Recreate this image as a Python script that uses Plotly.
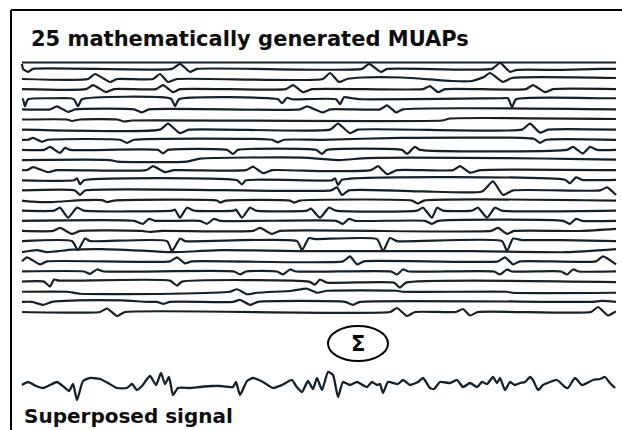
import plotly.graph_objects as go

# ---------------- data ----------------
# time axis in ms (0 .. 594), amplitude in a.u. (positive = upward deflection)
muap_01 = [(0,5),(1,0),(6,-3),(11,0),(150,0),(158,5),(168,-3),(175,0),(340,0),(347,5),(359,-3),(365,0),(470,0),(478,6),(488,-3),(495,-1),(540,-1),(580,0),(594,0)]
muap_02 = [(0,0),(66,0),(73,5),(88,-3),(95,0),(131,0),(138,5),(146,-3),(155,0),(301,0),(308,6),(317,-3),(325,0),(340,1.5),(380,1.5),(430,-2),(450,-2),(462,2),(468,6),(481,-3),(490,1),(594,1)]
muap_03 = [(0,0),(64,0),(71,4),(84,-3),(92,0),(134,0),(141,4),(151,-3),(158,0),(264,0),(271,4),(281,-3),(290,0),(401,0),(408,3),(416,-3),(423,0),(504,0),(511,4),(523,-3),(531,0),(594,0)]
muap_04 = [(0,0),(1,0),(3,-7),(6,0),(30,1),(48,1),(52,0),(56,-7),(60,0),(149,0.5),(153,-7),(157,0),(256,0),(260,-4),(265,1.5),(270,0),(314,0),(318,-5),(322,2),(330,1),(340,0),(480,1),(486,1),(490,-8),(494,0),(580,1),(594,1)]
muap_05 = [(0,0),(28,0),(35,3),(46,-2.5),(53,0),(112,0),(120,-3),(127,0),(278,0),(285,3),(301,-3),(308,0),(358,0),(365,4),(374,-3),(381,0),(594,0)]
muap_06 = [(0,0),(45,0),(50,-1.5),(58,0),(95,0),(102,-2),(110,-1),(420,-1),(428,1),(594,0.5)]
muap_07 = [(0,0),(138,0),(146,6),(158,-3.5),(167,0),(308,0),(316,6),(328,-3.5),(336,0),(500,0),(508,6),(518,-3),(526,0),(594,0)]
muap_08 = [(0,0),(6,0),(11,2),(20,-2),(26,0),(98,0),(105,-3),(112,0),(250,0),(256,-2.5),(262,0),(300,0),(378,2),(500,2),(512,1),(518,-3),(524,0),(594,0)]
muap_09 = [(0,0),(22,0),(28,3),(38,-3),(43,2),(48,0),(136,0),(141,-3.5),(146,0),(205,0),(211,-4),(216,0),(294,0),(300,-4),(305,0),(380,0),(385,-4),(393,3),(398,0),(545,0),(551,3),(561,-3.5),(568,3),(575,0),(594,0)]
muap_10 = [(0,0),(88,0),(95,-1.5),(165,-1.5),(178,1.5),(280,2.5),(318,0),(345,2),(480,2),(560,1),(594,0.5)]
muap_11 = [(0,0),(5,0),(11,3),(26,-2),(35,0),(124,0),(131,4),(143,-2),(152,0),(224,0),(231,3.5),(241,-3),(250,0),(300,-1),(349,0),(356,4),(365,-4),(375,0),(431,0),(438,4),(448,-2.5),(458,0),(594,0)]
muap_12 = [(0,0),(52,0),(55,2),(58,-4),(62,0),(215,0),(220,-4),(224,0),(310,0),(313,2),(316,-4.5),(320,0.5),(543,0.5),(548,-3),(554,3),(560,0.5),(594,0.5)]
muap_13 = [(0,0),(53,0),(58,-4.5),(63,0),(309,0),(315,3),(320,-4.5),(327,0),(400,-1),(460,-1),(471,9),(481,-4.5),(491,0),(578,0),(585,3),(594,-4.5)]
muap_14 = [(0,0),(10,-1),(30,-1.5),(60,0.5),(80,0.5),(85,-1.5),(92,0),(195,0),(198,-2),(204,0),(268,0),(272,-2),(278,0),(390,0),(396,-3),(402,0),(594,0)]
muap_15 = [(0,0),(32,0),(38,3),(46,-7),(55,3),(62,0),(150,0),(153,1),(158,-7),(165,3),(172,0),(212,0),(214,1),(220,-7),(228,3),(234,0),(285,0),(289,2),(298,-7),(307,3),(314,0),(395,0),(401,3),(410,-7),(415,3),(421,0),(450,0),(456,3),(465,-7),(473,3),(480,0),(594,0)]
muap_16 = [(0,0),(112,0),(121,-3),(127,2),(133,0),(178,0),(185,-3),(192,2),(198,0),(314,0),(321,-3),(327,2),(333,0),(403,0),(410,-3),(416,0),(541,0),(548,-3),(554,2),(560,0),(594,0)]
muap_17 = [(0,0),(31,0),(38,3),(50,-3),(58,0),(120,0),(128,-1),(140,0),(231,0),(238,3),(250,-3),(258,0),(469,0),(476,3),(485,-3),(492,0),(560,0),(594,2)]
muap_18 = [(0,0),(50,0),(56,-9),(63,2.5),(68,0),(145,0),(150,-10),(158,2.5),(163,0),(275,0),(280,-9),(287,3),(293,2),(355,2),(361,-10),(368,3),(375,0),(480,0),(485,-10),(491,2.5),(500,1),(540,1),(594,0)]
muap_19 = [(0,-1),(15,1),(25,-1),(50,1.5),(80,2),(130,0),(150,-1),(200,1),(300,0),(450,0),(545,-1),(594,2)]
muap_20 = [(0,0),(5,4),(18,-3),(25,0),(148,0),(155,4),(163,-2),(170,0),(321,0),(328,5),(335,-3),(342,0),(476,0),(483,4),(491,-3),(498,0),(574,0),(581,5),(594,-3)]
muap_21 = [(0,0),(62,0),(68,-2.5),(75,2),(82,0),(212,0),(218,-3),(224,0),(255,0),(261,-3),(268,2),(274,0),(369,0),(375,-3),(381,2),(387,0),(472,0),(478,-3),(485,2),(490,0),(539,0),(545,-3),(551,2),(557,0),(594,0)]
muap_22 = [(0,0),(22,0),(28,-5),(32,2),(37,1),(148,1),(155,-4),(160,0),(287,0),(293,-3),(298,2),(305,-1),(372,-1),(378,-6),(384,-1),(594,-0.5)]
muap_23 = [(0,0),(45,0),(58,-2),(150,-2),(208,0),(215,2.5),(225,-2.5),(235,-1),(270,1),(285,3),(295,-1),(305,1),(375,1),(380,0),(485,0),(490,-1),(594,-1)]
muap_24 = [(0,0),(10,0),(21,-3),(30,0),(55,1.5),(100,1.5),(125,0),(135,0),(141,-2),(148,0),(211,0),(218,2),(228,-3),(236,0),(323,0),(331,-3),(338,0),(570,0),(580,1),(594,0)]
muap_25 = [(0,0),(78,0),(85,3.5),(95,-4),(103,0),(368,0),(375,4),(385,-4),(393,0),(434,0),(441,3),(448,-3.5),(456,0),(569,0),(576,5),(586,-3.5),(593,0),(594,0)]

superposed_t = [0,6,14,21,28,35,42,47,51,55,61,68,78,86,95,105,110,115,120,128,134,139,143,147,151,156,168,178,191,198,211,214,218,225,231,241,251,260,270,274,280,286,291,295,300,306,311,316,321,328,335,345,350,355,358,361,366,376,381,388,396,401,408,412,418,428,435,441,448,455,460,465,471,475,478,483,488,493,498,503,508,511,516,521,528,535,543,546,553,560,565,571,578,583,588,593]
superposed_a = [0,3,-1,-3,0,3,-2,-6,1,-15,4,7,6,2,-3,-3,1,-5,-1,9,0,12,1,8,-10,-3,-3,-2,-1,-1,-2,3,-10,4,7,3,-3,0,5,-1,-7,4,-4,7,-5,13,10,-12,3,0,3,-2,3,0,1,-8,3,1,5,0,3,7,-3,-4,3,2,5,-2,2,-2,3,1,8,2,7,-5,3,0,2,3,8,5,-5,0,3,5,-2,-3,7,0,2,5,6,8,2,-3]

title_text = "25 mathematically generated MUAPs"
bottom_text = "Superposed signal"
sum_symbol = "Σ"

muap_rows = [muap_01, muap_02, muap_03, muap_04, muap_05, muap_06, muap_07, muap_08, muap_09, muap_10,
             muap_11, muap_12, muap_13, muap_14, muap_15, muap_16, muap_17, muap_18, muap_19, muap_20,
             muap_21, muap_22, muap_23, muap_24, muap_25]

# ---------------- layout / style ----------------
W, H = 622, 430
X0 = 22                 # left edge of traces in px
ROW2_PX = 79.0          # baseline of second row
ROW_SP = 10.13          # row spacing in px
SUM_BASE = 385.0
LINE_COLOR = "#14212a"
TEXT_COLOR = "#0d0d0d"
FONT = "DejaVu Sans"
LW = 2.2

fig = go.Figure()

# frame line directly above the traces
fig.add_trace(go.Scatter(x=[0, 594], y=[-62.5, -62.5], mode="lines",
                         line=dict(color=LINE_COLOR, width=LW), hoverinfo="skip"))

for i, row in enumerate(muap_rows):
    base = ROW2_PX + (i - 1) * ROW_SP
    xs = [p[0] for p in row]
    ys = [-base + p[1] for p in row]
    fig.add_trace(go.Scatter(x=xs, y=ys, mode="lines",
                             line=dict(color=LINE_COLOR, width=LW, shape="spline", smoothing=0.5),
                             hoverinfo="skip"))

fig.add_trace(go.Scatter(x=superposed_t, y=[-SUM_BASE + a for a in superposed_a], mode="lines",
                         line=dict(color=LINE_COLOR, width=2.3, shape="spline", smoothing=0.5),
                         hoverinfo="skip"))

shapes = [
    dict(type="line", xref="x", yref="y", x0=-11, x1=600, y0=-10, y1=-10,
         line=dict(color="black", width=2)),
    dict(type="line", xref="x", yref="y", x0=-11, x1=-11, y0=-10, y1=-430,
         line=dict(color="black", width=2)),
    dict(type="circle", xref="x", yref="y", x0=306, x1=366, y0=-326, y1=-361,
         line=dict(color="black", width=2)),
]

annotations = [
    dict(text="<b>" + title_text + "</b>", x=7, y=-39, xref="x", yref="y",
         xanchor="left", yanchor="middle", showarrow=False,
         font=dict(family=FONT, size=21, color=TEXT_COLOR)),
    dict(text="<b>" + bottom_text + "</b>", x=0, y=-416, xref="x", yref="y",
         xanchor="left", yanchor="middle", showarrow=False,
         font=dict(family=FONT, size=20, color=TEXT_COLOR)),
    dict(text="<b>" + sum_symbol + "</b>", x=336, y=-343.5, xref="x", yref="y",
         xanchor="center", yanchor="middle", showarrow=False,
         font=dict(family=FONT, size=21, color="black")),
]

fig.update_layout(
    width=W, height=H,
    margin=dict(l=0, r=0, t=0, b=0),
    paper_bgcolor="white", plot_bgcolor="white",
    showlegend=False,
    xaxis=dict(range=[-X0, W - X0], visible=False, fixedrange=True),
    yaxis=dict(range=[-H, 0], visible=False, fixedrange=True),
    shapes=shapes, annotations=annotations,
)

fig.write_html("out.html")
